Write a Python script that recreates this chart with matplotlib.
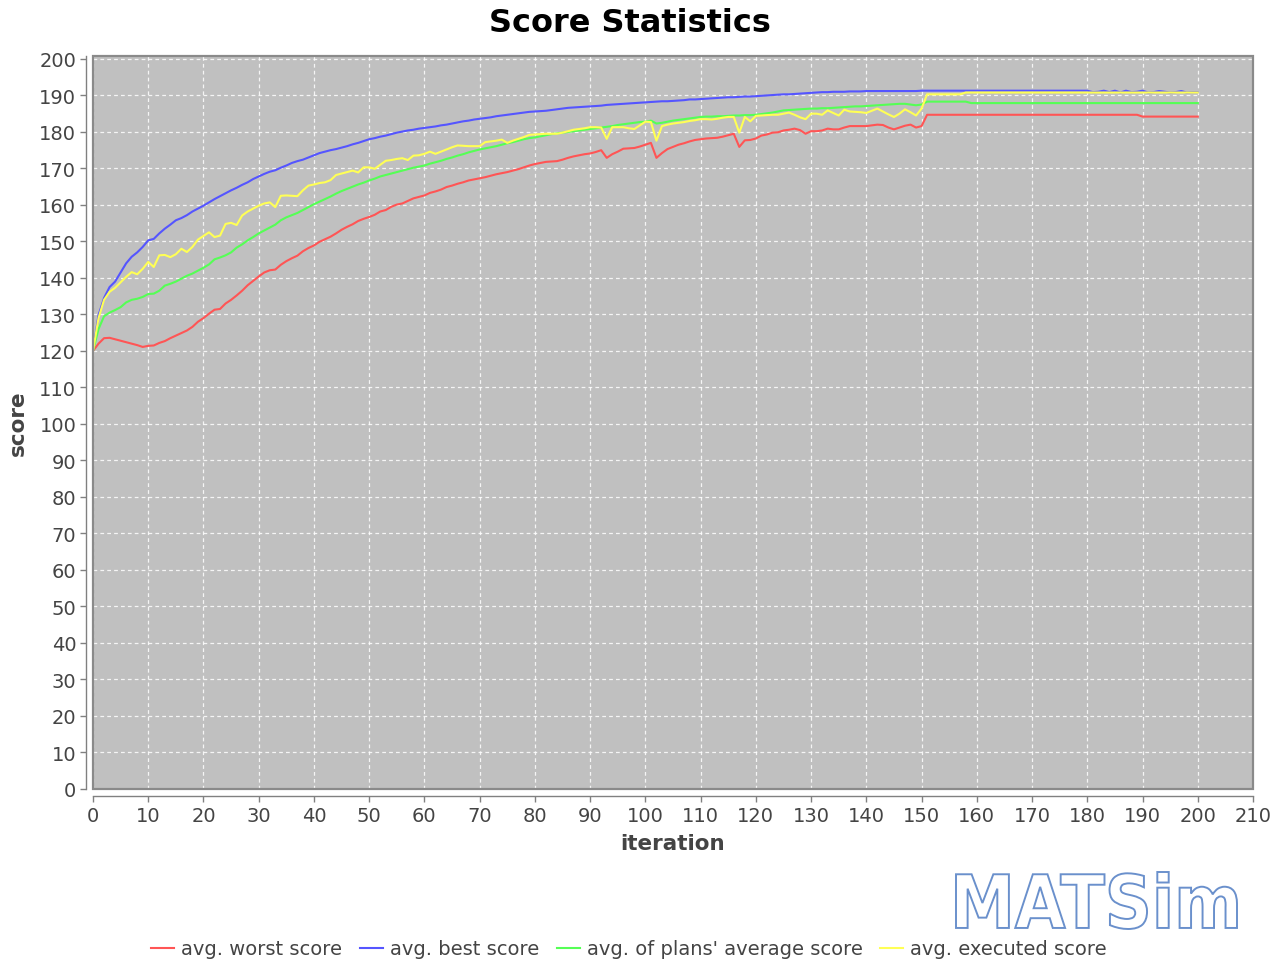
import matplotlib
matplotlib.use("Agg")
import matplotlib.pyplot as plt
from matplotlib.textpath import TextPath
from matplotlib.patches import PathPatch, Rectangle
from matplotlib.font_manager import FontProperties
from matplotlib.transforms import Affine2D

# values, one per iteration (0..200)
worst_score = [
    120.0, 122.0, 123.5, 123.6, 123.2, 122.8, 122.4, 122.0, 121.6, 121.1,
    121.4, 121.5, 122.2, 122.7, 123.5, 124.2, 124.9, 125.6, 126.6, 128.0,
    129.0, 130.2, 131.3, 131.5, 133.0, 134.0, 135.2, 136.5, 138.0, 139.2,
    140.4, 141.5, 142.1, 142.3, 143.6, 144.6, 145.4, 146.1, 147.3, 148.2,
    148.9, 149.9, 150.6, 151.3, 152.2, 153.2, 154.0, 154.7, 155.6, 156.2,
    156.7, 157.3, 158.2, 158.6, 159.5, 160.1, 160.4, 161.1, 161.8, 162.2,
    162.6, 163.3, 163.7, 164.2, 164.9, 165.3, 165.8, 166.2, 166.7, 167.0,
    167.3, 167.6, 168.0, 168.4, 168.7, 169.0, 169.4, 169.8, 170.3, 170.8,
    171.2, 171.5, 171.8, 171.9, 172.0, 172.4, 172.9, 173.3, 173.6, 173.9,
    174.1, 174.5, 175.0, 172.9, 173.9, 174.6, 175.4, 175.5, 175.6, 176.0,
    176.5, 177.0, 172.9, 174.2, 175.3, 175.9, 176.5, 176.9, 177.4, 177.8,
    178.0, 178.2, 178.3, 178.4, 178.7, 179.1, 179.5, 175.9, 177.7, 177.8,
    178.2, 179.0, 179.3, 179.8, 179.9, 180.4, 180.6, 180.9, 180.5, 179.5,
    180.2, 180.2, 180.4, 180.9, 180.7, 180.7, 181.2, 181.6, 181.6, 181.6,
    181.6, 181.8, 182.0, 181.9, 181.2, 180.7, 181.2, 181.7, 182.0, 181.2,
    181.6, 184.7, 184.7, 184.7, 184.7, 184.7, 184.7, 184.7, 184.7, 184.7,
    184.7, 184.7, 184.7, 184.7, 184.7, 184.7, 184.7, 184.7, 184.7, 184.7,
    184.7, 184.7, 184.7, 184.7, 184.7, 184.7, 184.7, 184.7, 184.7, 184.7,
    184.7, 184.7, 184.7, 184.7, 184.7, 184.7, 184.7, 184.7, 184.7, 184.7,
    184.2, 184.2, 184.2, 184.2, 184.2, 184.2, 184.2, 184.2, 184.2, 184.2,
    184.2,
]

best_score = [
    120.0, 129.8, 134.5, 137.5, 139.0, 141.5, 144.0, 145.8, 147.0, 148.5,
    150.3, 150.7, 152.2, 153.5, 154.6, 155.8, 156.4, 157.2, 158.2, 159.0,
    159.8, 160.7, 161.6, 162.4, 163.2, 164.0, 164.7, 165.5, 166.2, 167.1,
    167.8, 168.5, 169.1, 169.5, 170.2, 170.8, 171.5, 172.0, 172.4, 173.0,
    173.6, 174.2, 174.6, 175.0, 175.3, 175.7, 176.1, 176.6, 177.0, 177.5,
    178.0, 178.3, 178.7, 179.0, 179.4, 179.8, 180.1, 180.4, 180.6, 180.9,
    181.1, 181.3, 181.5, 181.8, 182.0, 182.3, 182.6, 182.9, 183.1, 183.4,
    183.6, 183.8, 184.0, 184.3, 184.5, 184.7, 184.9, 185.1, 185.3, 185.5,
    185.6, 185.7, 185.8, 186.0, 186.2, 186.4, 186.6, 186.7, 186.8, 186.9,
    187.0, 187.1, 187.2, 187.4, 187.5, 187.6, 187.7, 187.8, 187.9, 188.0,
    188.1, 188.2, 188.3, 188.4, 188.4, 188.5, 188.6, 188.7, 188.9, 188.9,
    189.0, 189.1, 189.2, 189.3, 189.4, 189.5, 189.5, 189.6, 189.7, 189.7,
    189.8, 189.9, 190.0, 190.1, 190.2, 190.3, 190.3, 190.4, 190.5, 190.6,
    190.7, 190.8, 190.9, 190.9, 191.0, 191.0, 191.0, 191.1, 191.1, 191.1,
    191.2, 191.2, 191.2, 191.2, 191.2, 191.2, 191.2, 191.2, 191.2, 191.2,
    191.3, 191.3, 191.3, 191.3, 191.3, 191.3, 191.3, 191.3, 191.3, 191.3,
    191.3, 191.3, 191.3, 191.3, 191.3, 191.3, 191.3, 191.3, 191.3, 191.3,
    191.3, 191.3, 191.3, 191.3, 191.3, 191.3, 191.3, 191.3, 191.3, 191.3,
    191.3, 190.9, 191.0, 191.3, 190.9, 191.3, 190.8, 191.3, 190.9, 191.0,
    191.3, 190.8, 190.9, 191.2, 191.0, 190.8, 190.9, 191.2, 190.8, 190.9,
    190.9,
]

plans_avg_score = [
    120.0, 126.0, 129.5, 130.5, 131.2, 132.0, 133.3, 134.0, 134.3, 134.8,
    135.6, 135.7, 136.5, 137.9, 138.4, 139.0, 139.8, 140.6, 141.2, 142.0,
    142.8, 143.7, 145.1, 145.6, 146.2, 147.0, 148.3, 149.2, 150.3, 151.2,
    152.2, 153.0, 153.8, 154.6, 155.8, 156.6, 157.2, 157.8, 158.6, 159.4,
    160.2, 160.9, 161.6, 162.3, 163.1, 163.8, 164.4, 165.0, 165.6, 166.1,
    166.7, 167.2, 167.8, 168.2, 168.6, 169.0, 169.4, 169.8, 170.2, 170.5,
    170.8, 171.3, 171.7, 172.1, 172.6, 173.0, 173.5, 173.9, 174.4, 174.8,
    175.2, 175.5, 175.8, 176.1, 176.5, 176.9, 177.2, 177.6, 178.0, 178.3,
    178.5, 178.8, 179.1, 179.4, 179.6, 179.8, 180.0, 180.2, 180.4, 180.6,
    180.8, 181.0, 181.2, 181.4, 181.6, 181.9, 182.1, 182.3, 182.5, 182.7,
    182.8, 183.1, 182.3, 182.5, 182.8, 183.1, 183.3, 183.5, 183.7, 183.9,
    184.1, 184.2, 184.2, 184.3, 184.3, 184.4, 184.5, 184.5, 184.6, 184.6,
    184.7, 184.9, 185.1, 185.3, 185.6, 185.9, 186.0, 186.1, 186.2, 186.3,
    186.4, 186.4, 186.5, 186.5, 186.6, 186.7, 186.8, 186.9, 187.0, 187.0,
    187.1, 187.2, 187.3, 187.4, 187.5, 187.6, 187.7, 187.7, 187.5, 187.3,
    187.5, 188.3, 188.3, 188.3, 188.3, 188.3, 188.3, 188.3, 188.3, 187.9,
    187.9, 187.9, 187.9, 187.9, 187.9, 187.9, 187.9, 187.9, 187.9, 187.9,
    187.9, 187.9, 187.9, 187.9, 187.9, 187.9, 187.9, 187.9, 187.9, 187.9,
    187.9, 187.9, 187.9, 187.9, 187.9, 187.9, 187.9, 187.9, 187.9, 187.9,
    187.9, 187.9, 187.9, 187.9, 187.9, 187.9, 187.9, 187.9, 187.9, 187.9,
    187.9,
]

executed_score = [
    120.0, 129.0, 134.0, 136.2, 137.3, 138.8, 140.3, 141.6, 141.0, 142.5,
    144.4, 143.0, 146.2, 146.3, 145.7, 146.5, 148.0, 147.1, 148.5, 150.5,
    151.5, 152.5, 151.2, 151.6, 154.8, 155.1, 154.5, 157.1, 158.2, 159.0,
    159.8, 160.4, 160.7, 159.4, 162.5, 162.6, 162.5, 162.4, 164.0, 165.3,
    165.6, 166.0, 166.2, 166.8, 168.2, 168.6, 169.0, 169.4, 168.9, 170.3,
    170.3, 169.9, 171.0, 172.1, 172.3, 172.6, 172.8, 172.3, 173.5, 173.6,
    174.0, 174.6, 174.0, 174.6, 175.2, 175.8, 176.3, 176.2, 176.1, 176.1,
    176.1, 177.2, 177.4, 177.6, 177.9, 177.0, 177.6, 178.1, 178.6, 179.2,
    179.3, 179.4, 179.5, 179.5, 179.5, 179.8, 180.2, 180.6, 180.8, 181.0,
    181.3, 181.3, 181.2, 178.1, 181.3, 181.3, 181.3, 181.0, 180.8, 181.8,
    182.8, 182.7, 177.6, 181.6, 182.0, 182.3, 182.5, 182.7, 183.0, 183.2,
    183.5, 183.5, 183.4, 183.6, 183.9, 184.1, 184.1, 179.8, 184.1, 182.9,
    184.4, 184.5, 184.6, 184.7, 184.7, 185.0, 185.3, 184.7, 184.0, 183.5,
    185.0, 185.0, 184.7, 185.9, 185.2, 184.5, 186.1, 185.6, 185.5, 185.4,
    185.2, 185.8, 186.4, 185.6, 184.8, 184.1, 185.0, 186.2, 185.4, 184.5,
    186.4, 190.3, 190.3, 190.3, 190.3, 190.3, 190.3, 190.3, 190.8, 190.8,
    190.8, 190.8, 190.8, 190.8, 190.8, 190.8, 190.8, 190.8, 190.8, 190.8,
    190.8, 190.8, 190.8, 190.8, 190.8, 190.8, 190.8, 190.8, 190.8, 190.8,
    190.8, 190.8, 190.8, 190.8, 190.8, 190.8, 190.8, 190.8, 190.8, 190.8,
    190.8, 190.8, 190.8, 190.8, 190.8, 190.8, 190.8, 190.8, 190.8, 190.8,
    190.8,
]

iterations = list(range(len(worst_score)))
labels = ["avg. worst score", "avg. best score", "avg. of plans' average score", "avg. executed score"]
colors = ["#FF5555", "#5555FF", "#55FF55", "#FFFF55"]

W, H = 1283, 962
fig = plt.figure(figsize=(W / 100, H / 100), dpi=100)
fig.patch.set_facecolor("white")

# plot area in pixels: left 93, right 1253, top 57, bottom 790
ax = fig.add_axes([93 / W, 1 - 790 / H, (1253 - 93) / W, (790 - 57) / H])
ax.set_facecolor("#C0C0C0")

for ys, lab, c in zip([worst_score, best_score, plans_avg_score, executed_score], labels, colors):
    ax.plot(iterations, ys, color=c, lw=1.5, label=lab, zorder=3)

ax.set_xlim(0, 210)
ax.set_ylim(0, 200.8)
ax.set_xticks(range(0, 211, 10))
ax.set_yticks(range(0, 201, 10))
ax.grid(True, color="white", lw=0.9, linestyle=(0, (3, 2.5)), alpha=0.85)
ax.set_axisbelow(True)

# JFreeChart style: axis lines set off from the plot area
for side in ["top", "right"]:
    ax.spines[side].set_visible(False)
ax.spines["left"].set_position(("outward", 5))
ax.spines["bottom"].set_position(("outward", 5))
for side in ["left", "bottom"]:
    ax.spines[side].set_color("#808080")
    ax.spines[side].set_linewidth(1.0)
ax.add_patch(Rectangle((0, 0), 1, 1, transform=ax.transAxes, fill=False,
                       edgecolor="#8a8a8a", lw=1.6, clip_on=False, zorder=4))

ax.tick_params(axis="both", colors="#808080", labelcolor="#444444",
               labelsize=14, length=4, width=1.0, pad=3)

ax.set_xlabel("iteration", fontsize=15.5, fontweight="bold", color="#444444", labelpad=6)
ax.set_ylabel("score", fontsize=15.5, fontweight="bold", color="#444444", labelpad=8)

fig.text(630 / W, 1 - 23 / H, "Score Statistics", ha="center", va="center",
         fontsize=23, fontweight="bold", color="black")

leg = fig.legend(loc="center", bbox_to_anchor=(629 / W, 1 - 950 / H), ncol=4,
                 frameon=False, fontsize=14, handlelength=1.2, handletextpad=0.35,
                 columnspacing=0.9, borderaxespad=0)
for t in leg.get_texts():
    t.set_color("#444444")
for h in leg.get_lines():
    h.set_linewidth(1.5)

# MATSim logo as outlined text
tp = TextPath((0, 0), "MATSim", size=100, prop=FontProperties(family="DejaVu Sans", weight="bold"))
bb = tp.get_extents()
x0, x1 = 956, 1237
y0, y1 = H - 930, H - 873
tr = (Affine2D().translate(-bb.x0, -bb.y0)
      .scale((x1 - x0) / bb.width, (y1 - y0) / bb.height)
      .translate(x0, y0).scale(1 / W, 1 / H))
fig.add_artist(PathPatch(tp, transform=tr + fig.transFigure, facecolor="white",
                         edgecolor="#6a90cc", lw=1.4))

fig.savefig("out.png", dpi=100)
